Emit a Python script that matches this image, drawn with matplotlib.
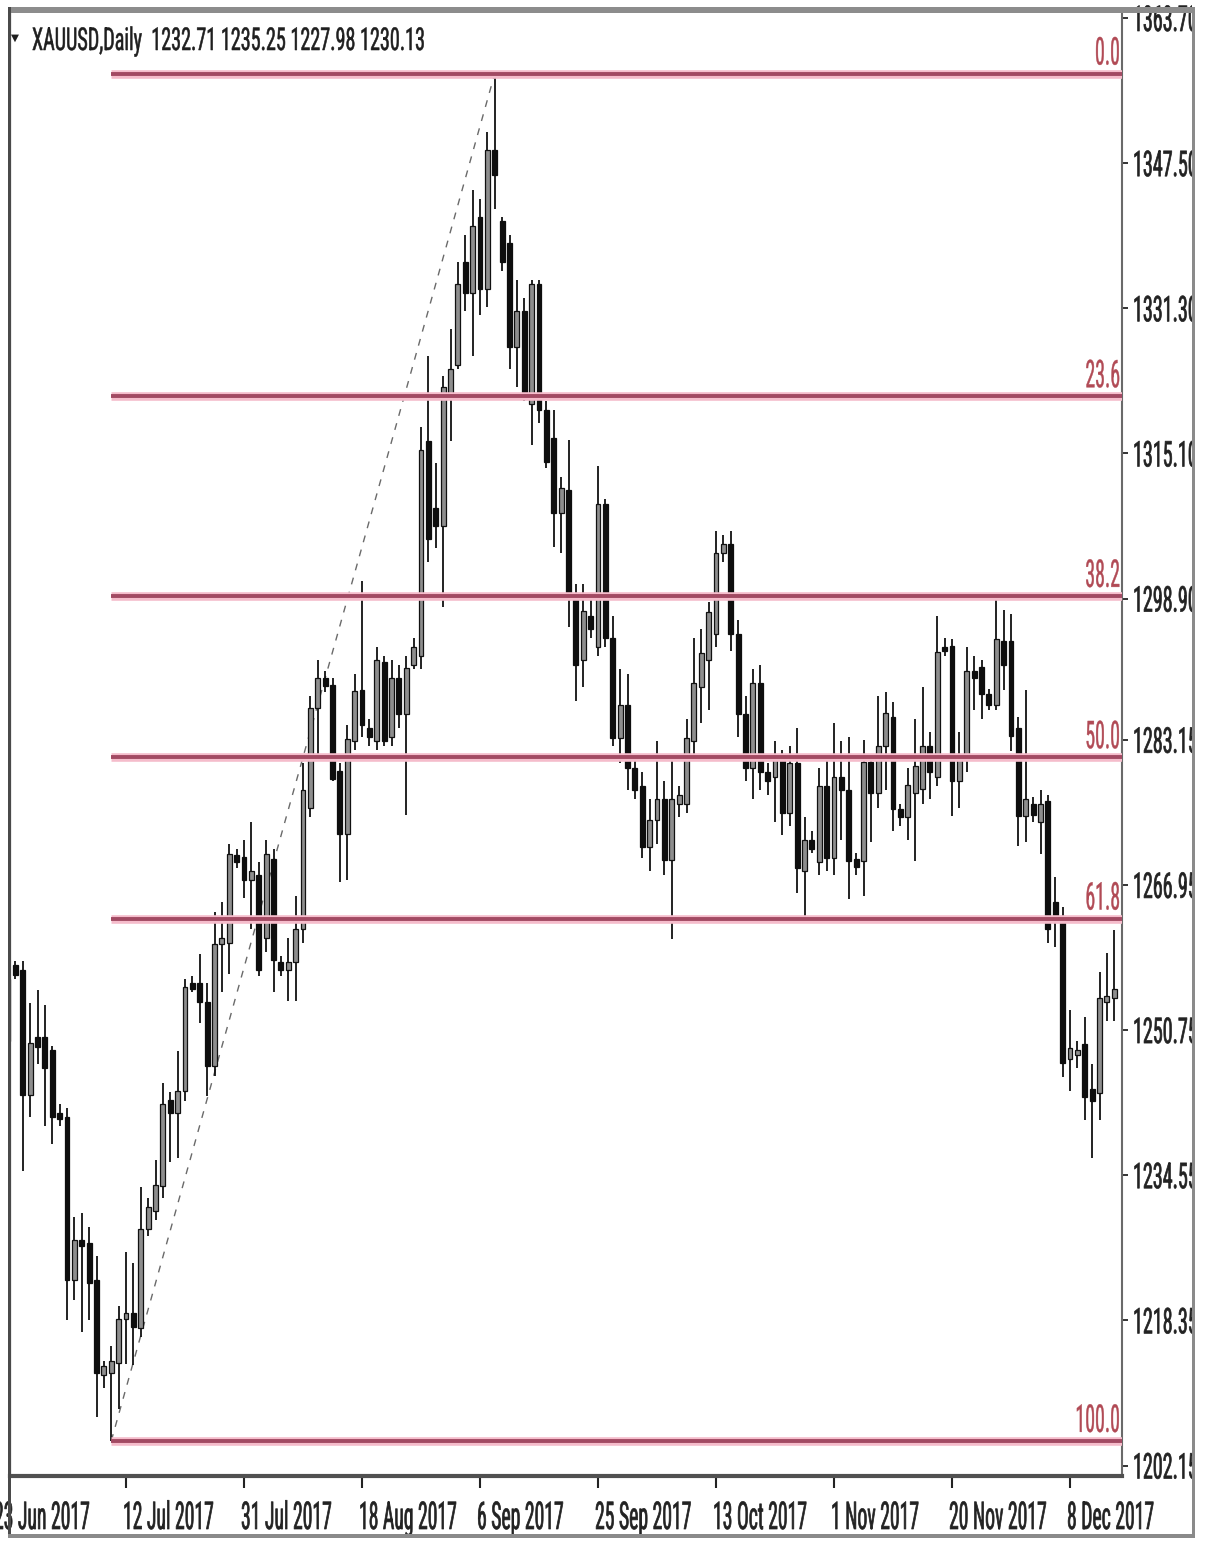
import numpy as np
import matplotlib
matplotlib.use("Agg")
import matplotlib.pyplot as plt
from matplotlib.patches import Rectangle
from matplotlib.patheffects import AbstractPathEffect
from matplotlib.transforms import (Affine2D, blended_transform_factory, offset_copy,
                                   Bbox, TransformedBbox)
from matplotlib.textpath import TextPath
from matplotlib.font_manager import FontProperties, fontManager

# ---------------- data ----------------
dates = ['2017-06-23', '2017-06-25', '2017-06-26', '2017-06-27', '2017-06-28', '2017-06-29', '2017-06-30',
         '2017-07-02', '2017-07-03', '2017-07-04', '2017-07-05', '2017-07-06', '2017-07-07',
         '2017-07-09', '2017-07-10', '2017-07-11', '2017-07-12', '2017-07-13', '2017-07-14',
         '2017-07-16', '2017-07-17', '2017-07-18', '2017-07-19', '2017-07-20', '2017-07-21',
         '2017-07-23', '2017-07-24', '2017-07-25', '2017-07-26', '2017-07-27', '2017-07-28',
         '2017-07-30', '2017-07-31', '2017-08-01', '2017-08-02', '2017-08-03', '2017-08-04',
         '2017-08-06', '2017-08-07', '2017-08-08', '2017-08-09', '2017-08-10', '2017-08-11',
         '2017-08-13', '2017-08-14', '2017-08-15', '2017-08-16', '2017-08-17', '2017-08-18',
         '2017-08-20', '2017-08-21', '2017-08-22', '2017-08-23', '2017-08-24', '2017-08-25',
         '2017-08-27', '2017-08-28', '2017-08-29', '2017-08-30', '2017-08-31', '2017-09-01',
         '2017-09-03', '2017-09-04', '2017-09-05', '2017-09-06', '2017-09-07', '2017-09-08',
         '2017-09-10', '2017-09-11', '2017-09-12', '2017-09-13', '2017-09-14', '2017-09-15',
         '2017-09-17', '2017-09-18', '2017-09-19', '2017-09-20', '2017-09-21', '2017-09-22',
         '2017-09-24', '2017-09-25', '2017-09-26', '2017-09-27', '2017-09-28', '2017-09-29',
         '2017-10-01', '2017-10-02', '2017-10-03', '2017-10-04', '2017-10-05', '2017-10-06',
         '2017-10-08', '2017-10-09', '2017-10-10', '2017-10-11', '2017-10-12', '2017-10-13',
         '2017-10-15', '2017-10-16', '2017-10-17', '2017-10-18', '2017-10-19', '2017-10-20',
         '2017-10-22', '2017-10-23', '2017-10-24', '2017-10-25', '2017-10-26', '2017-10-27',
         '2017-10-29', '2017-10-30', '2017-10-31', '2017-11-01', '2017-11-02', '2017-11-03',
         '2017-11-05', '2017-11-06', '2017-11-07', '2017-11-08', '2017-11-09', '2017-11-10',
         '2017-11-12', '2017-11-13', '2017-11-14', '2017-11-15', '2017-11-16', '2017-11-17',
         '2017-11-19', '2017-11-20', '2017-11-21', '2017-11-22', '2017-11-23', '2017-11-24',
         '2017-11-26', '2017-11-27', '2017-11-28', '2017-11-29', '2017-11-30', '2017-12-01',
         '2017-12-03', '2017-12-04', '2017-12-05', '2017-12-06', '2017-12-07', '2017-12-08',
         '2017-12-10', '2017-12-11', '2017-12-12', '2017-12-13', '2017-12-14', '2017-12-15']

opens = [1249.5, 1258.0, 1257.5, 1243.5, 1250.0, 1250.0, 1248.5,
         1241.5, 1241.0, 1222.9, 1227.3, 1227.0, 1222.9,
         1212.2, 1212.5, 1213.6, 1218.5, 1219.2, 1217.5,
         1228.5, 1230.5, 1233.3, 1242.9, 1241.5, 1244.0,
         1256.0, 1256.0, 1253.9, 1246.7, 1260.3, 1260.5,
         1270.3, 1270.1, 1267.5, 1268.0, 1261.0, 1269.8,
         1258.3, 1257.5, 1258.3, 1262.0, 1275.5, 1286.7,
         1290.0, 1289.3, 1279.7, 1272.6, 1283.0, 1288.7,
         1284.5, 1283.0, 1291.8, 1283.5, 1290.0, 1286.0,
         1291.5, 1292.5, 1316.5, 1309.0, 1307.0, 1321.5,
         1325.0, 1336.5, 1333.0, 1341.5, 1333.5, 1349.0,
         1341.0, 1338.6, 1327.0, 1331.0, 1320.6, 1334.0,
         1320.0, 1316.8, 1308.4, 1311.0, 1299.2, 1292.0,
         1297.0, 1293.5, 1309.5, 1294.5, 1283.4, 1287.0,
         1280.0, 1278.0, 1271.2, 1274.2, 1276.5, 1269.7,
         1276.0, 1276.0, 1283.0, 1289.0, 1292.0, 1295.0,
         1304.0, 1305.0, 1295.0, 1286.0, 1280.0, 1289.5,
         1279.5, 1279.0, 1281.0, 1275.0, 1280.6, 1268.5,
         1272.0, 1269.5, 1278.0, 1270.0, 1279.0, 1277.5,
         1269.8, 1269.6, 1280.7, 1277.2, 1282.4, 1285.7,
         1275.4, 1274.5, 1277.2, 1277.7, 1282.5, 1279.0,
         1293.5, 1293.6, 1278.6, 1281.0, 1290.8, 1291.3,
         1288.3, 1287.0, 1294.2, 1294.2, 1284.5, 1274.6,
         1276.0, 1274.0, 1276.3, 1265.0, 1263.5, 1247.5,
         1248.0, 1249.2, 1244.2, 1243.7, 1253.9, 1254.3]

highs = [1257.5, 1258.5, 1258.5, 1253.8, 1255.2, 1253.6, 1249.0,
         1242.5, 1242.0, 1229.9, 1230.3, 1228.8, 1225.5,
         1213.8, 1215.5, 1220.0, 1226.0, 1224.7, 1233.2,
         1232.0, 1236.2, 1244.8, 1243.8, 1248.4, 1256.5,
         1256.8, 1259.2, 1256.0, 1263.9, 1265.0, 1271.5,
         1271.0, 1272.0, 1274.0, 1269.5, 1272.0, 1271.0,
         1259.0, 1261.0, 1265.7, 1280.5, 1288.0, 1292.0,
         1290.8, 1290.0, 1280.5, 1284.8, 1290.5, 1300.9,
         1285.5, 1293.5, 1292.5, 1292.0, 1291.5, 1292.5,
         1294.5, 1318.0, 1326.0, 1314.0, 1323.8, 1329.0,
         1336.5, 1339.5, 1344.5, 1343.5, 1351.0, 1357.5,
         1341.5, 1339.5, 1334.5, 1332.5, 1334.5, 1334.5,
         1321.0, 1319.9, 1312.5, 1316.6, 1300.5, 1300.5,
         1299.0, 1313.7, 1310.0, 1297.0, 1291.0, 1290.5,
         1281.0, 1279.5, 1276.5, 1283.0, 1278.5, 1281.0,
         1278.0, 1285.5, 1294.5, 1295.5, 1298.5, 1306.5,
         1306.0, 1306.5, 1296.5, 1288.0, 1291.0, 1291.5,
         1280.5, 1283.0, 1282.0, 1282.5, 1284.5, 1274.5,
         1273.0, 1280.0, 1281.5, 1285.0, 1283.0, 1283.5,
         1270.5, 1283.1, 1281.0, 1288.0, 1288.5, 1287.4,
         1276.0, 1280.0, 1285.5, 1289.0, 1284.0, 1297.0,
         1294.5, 1294.4, 1284.0, 1293.5, 1292.5, 1292.0,
         1288.8, 1298.9, 1297.6, 1297.2, 1285.7, 1288.7,
         1276.8, 1277.5, 1277.0, 1267.8, 1264.5, 1253.0,
         1249.5, 1252.2, 1247.0, 1257.2, 1259.4, 1261.9]

lows = [1247.5, 1256.4, 1235.0, 1241.0, 1247.0, 1240.0, 1238.0,
        1240.0, 1218.4, 1220.6, 1217.0, 1218.4, 1207.6,
        1210.8, 1204.9, 1208.5, 1213.5, 1213.4, 1216.5,
        1227.8, 1229.5, 1232.0, 1236.0, 1236.5, 1242.8,
        1255.0, 1251.5, 1243.4, 1245.6, 1255.0, 1257.0,
        1268.8, 1265.5, 1262.0, 1256.8, 1259.5, 1255.0,
        1256.8, 1254.0, 1254.0, 1260.5, 1274.5, 1281.5,
        1288.5, 1278.5, 1267.3, 1267.5, 1282.0, 1283.5,
        1282.5, 1282.0, 1282.5, 1282.5, 1284.5, 1274.7,
        1291.0, 1291.0, 1303.0, 1304.5, 1298.0, 1316.5,
        1324.5, 1331.0, 1326.0, 1330.5, 1331.5, 1342.4,
        1335.5, 1324.5, 1322.5, 1321.0, 1316.0, 1318.5,
        1313.5, 1304.7, 1304.0, 1295.7, 1287.5, 1289.0,
        1294.5, 1292.5, 1293.5, 1282.5, 1280.5, 1277.5,
        1276.5, 1270.0, 1268.5, 1271.5, 1268.0, 1260.9,
        1274.5, 1275.0, 1281.5, 1285.0, 1286.5, 1293.5,
        1303.0, 1293.0, 1283.5, 1278.5, 1276.5, 1277.5,
        1277.0, 1274.0, 1272.5, 1273.5, 1266.0, 1263.3,
        1270.5, 1268.0, 1268.5, 1268.0, 1272.0, 1265.4,
        1268.0, 1265.7, 1271.7, 1275.5, 1277.5, 1273.0,
        1273.5, 1272.0, 1269.6, 1276.0, 1276.5, 1278.0,
        1292.5, 1274.6, 1275.5, 1279.5, 1286.5, 1285.5,
        1286.5, 1286.5, 1288.7, 1281.9, 1271.3, 1271.7,
        1274.0, 1270.4, 1260.5, 1260.0, 1245.5, 1244.0,
        1246.5, 1240.7, 1236.5, 1240.7, 1251.8, 1251.8]

closes = [1256.5, 1256.9, 1243.5, 1249.3, 1248.9, 1246.5, 1241.0,
          1240.8, 1222.9, 1227.3, 1226.6, 1222.5, 1212.5,
          1213.3, 1213.8, 1218.5, 1219.2, 1217.6, 1228.5,
          1231.0, 1233.5, 1242.5, 1241.5, 1244.0, 1255.5,
          1255.3, 1253.9, 1246.7, 1260.3, 1261.0, 1270.4,
          1269.5, 1267.5, 1268.5, 1257.5, 1270.4, 1258.6,
          1257.5, 1258.3, 1262.0, 1277.5, 1286.7, 1290.0,
          1289.2, 1278.8, 1272.6, 1283.2, 1288.6, 1284.8,
          1283.5, 1292.0, 1283.0, 1290.0, 1286.0, 1291.2,
          1293.5, 1315.5, 1305.5, 1307.0, 1322.5, 1324.5,
          1334.0, 1333.0, 1340.5, 1333.5, 1349.0, 1346.2,
          1336.5, 1327.0, 1331.0, 1322.0, 1334.0, 1320.0,
          1314.2, 1308.4, 1311.2, 1299.2, 1291.5, 1297.5,
          1295.5, 1309.5, 1294.5, 1283.4, 1287.0, 1280.0,
          1277.5, 1271.2, 1274.2, 1276.5, 1269.7, 1276.5,
          1277.0, 1283.4, 1289.5, 1292.8, 1297.4, 1304.0,
          1305.0, 1295.0, 1286.0, 1280.0, 1289.5, 1279.5,
          1278.5, 1281.0, 1275.0, 1280.6, 1268.8, 1272.0,
          1271.0, 1278.0, 1270.0, 1279.0, 1277.5, 1269.6,
          1269.0, 1280.7, 1277.2, 1282.4, 1286.1, 1275.4,
          1274.5, 1278.1, 1280.2, 1282.4, 1279.5, 1292.9,
          1293.0, 1278.6, 1281.5, 1290.8, 1290.0, 1288.3,
          1287.0, 1294.4, 1291.5, 1283.6, 1274.6, 1276.5,
          1274.8, 1276.0, 1262.0, 1263.6, 1247.1, 1248.8,
          1248.5, 1243.3, 1242.8, 1254.3, 1254.6, 1255.3]

price_tick_labels = ['1363.70', '1347.50', '1331.30', '1315.10', '1298.90', '1283.15',
                     '1266.95', '1250.75', '1234.55', '1218.35', '1202.15']
date_tick_dates = ['2017-06-23', '2017-07-12', '2017-07-31', '2017-08-18', '2017-09-06',
                   '2017-09-25', '2017-10-13', '2017-11-01', '2017-11-20', '2017-12-08']
date_tick_labels = ['23 Jun 2017', '12 Jul 2017', '31 Jul 2017', '18 Aug 2017', '6 Sep 2017',
                    '25 Sep 2017', '13 Oct 2017', '1 Nov 2017', '20 Nov 2017', '8 Dec 2017']
fib_ratios = [0.0, 23.6, 38.2, 50.0, 61.8, 100.0]
fib_labels = ['0.0', '23.6', '38.2', '50.0', '61.8', '100.0']
title_text = 'XAUUSD,Daily  1232.71 1235.25 1227.98 1230.13'

# ---------------- figure setup ----------------
W, H, DPI = 1208, 1542, 100
fig = plt.figure(figsize=(W / DPI, H / DPI), dpi=DPI)
fig.patch.set_facecolor('white')

def fx(px):
    return px / W

def fy(py):
    return 1 - py / H

ax = fig.add_axes([fx(10), fy(1476), (1122 - 10) / W, (1476 - 12) / H])
ax.set_facecolor('white')

names = {f.name for f in fontManager.ttflist}
FONT = 'DejaVu Sans'
for cand in ['Liberation Sans Narrow', 'Roboto Condensed', 'Liberation Sans', 'DejaVu Sans']:
    if cand in names:
        FONT = cand
        break
fp = FontProperties(family=FONT)


class StretchY(AbstractPathEffect):
    """Stretch glyphs vertically about the baseline (text stays a Text artist)."""
    def __init__(self, sy, stroke=0.0):
        super().__init__((0, 0))
        self.sy = sy
        self.stroke = stroke

    def draw_path(self, renderer, gc, tpath, affine, rgbFace=None):
        tr = Affine2D().scale(1.0, self.sy) + affine
        if self.stroke > 0 and rgbFace is not None:
            gc0 = renderer.new_gc()
            gc0.copy_properties(gc)
            gc0.set_linewidth(self.stroke)
            gc0.set_foreground(rgbFace)
            renderer.draw_path(gc0, tpath, tr, rgbFace)
            gc0.restore()
        else:
            renderer.draw_path(gc, tpath, tr, rgbFace)


def fit_size(s, w_px):
    w1 = TextPath((0, 0), s, size=1, prop=fp).get_extents().width
    return w_px / (w1 * DPI / 72.0)


def stretch_for(size, h_px):
    h1 = TextPath((0, 0), '0', size=1, prop=fp).get_extents().height
    return h_px / (h1 * size * DPI / 72.0)


# ---------------- candles ----------------
o = np.array(opens); hi = np.array(highs); lo = np.array(lows); c = np.array(closes)
x = np.arange(len(dates))
up = c >= o
ax.vlines(x, lo, hi, color='#111111', lw=1.3, zorder=2)
bottom = np.minimum(o, c)
height = np.maximum(np.abs(c - o), 0.35)
ax.bar(x[up], height[up], width=0.66, bottom=bottom[up], color='#8e8e8e',
       edgecolor='#111111', linewidth=0.9, zorder=3)
ax.bar(x[~up], height[~up], width=0.66, bottom=bottom[~up], color='#0e0e0e',
       edgecolor='#0e0e0e', linewidth=0.9, zorder=3)

# ---------------- fibonacci ----------------
i_low = int(np.argmin(lo))
i_high = int(np.argmax(hi))
p_low, p_high = lo[i_low], hi[i_high]
XMIN, XMAX = 0.27, 151.05
ax.plot([i_low, i_high], [p_low, p_high], color='#6a6a6a', lw=1.0,
        dashes=(5, 5.5), zorder=1.5)
levels = [p_high - r / 100.0 * (p_high - p_low) for r in fib_ratios]
for lv in levels:
    ax.plot([i_low, XMAX + 5], [lv, lv], color='#f5bccb', lw=6.2, zorder=4,
            solid_capstyle='butt')
    ax.plot([i_low, XMAX + 5], [lv, lv], color='#a24a63', lw=2.8, zorder=4.1,
            solid_capstyle='butt')

ax.set_xlim(XMIN, XMAX)
ax.set_ylim(1200.98, 1364.37)

# ---------------- axes frame / ticks ----------------
price_ticks = [float(s) for s in price_tick_labels]
date_pos = [dates.index(d) for d in date_tick_dates]
ax.yaxis.set_ticks_position('right')
ax.set_yticks(price_ticks)
ax.set_xticks([p for p in date_pos if XMIN <= p <= XMAX])
ax.tick_params(axis='y', direction='out', length=4, width=1.2, colors='#111111',
               labelright=False, labelleft=False)
ax.tick_params(axis='x', direction='out', length=8.5, width=1.5, colors='#222222',
               labelbottom=False)
ax.spines['top'].set_visible(False)
ax.spines['bottom'].set_linewidth(3.0)
ax.spines['bottom'].set_color('#505050')
ax.spines['left'].set_linewidth(1.6)
ax.spines['left'].set_color('#404040')
ax.spines['right'].set_linewidth(1.5)
ax.spines['right'].set_color('#6a6a6a')

# outer frame pieces (figure pixels)
def frame_rect(x0, y0, x1, y1, color):
    fig.add_artist(Rectangle((fx(x0), fy(y1)), (x1 - x0) / W, (y1 - y0) / H,
                             transform=fig.transFigure, facecolor=color,
                             edgecolor='none', zorder=10))

frame_rect(8, 7, 1195, 13, '#8c8c8c')
frame_rect(8, 7, 10.5, 1538, '#4a4a4a')
frame_rect(1192, 7, 1195, 1538, '#8a8a8a')
frame_rect(8, 1534, 1195, 1538, '#8a8a8a')

# ---------------- text ----------------
TXT = '#222222'
# price labels
size_y = fit_size('1347.50', 62)
sy_y = stretch_for(size_y, 26)
clip = TransformedBbox(Bbox([[0, 0], [fx(1192), 1]]), fig.transFigure)
ytrans = offset_copy(blended_transform_factory(fig.transFigure, ax.transData),
                     fig=fig, x=0, y=-13, units='dots')
for s, v in zip(price_tick_labels, price_ticks):
    t = fig.text(fx(1133), v, s, transform=ytrans, fontsize=size_y, family=FONT,
                 ha='left', va='baseline', color=TXT,
                 path_effects=[StretchY(sy_y, stroke=0.5)])
    t.set_clip_box(clip)
    t.set_clip_on(True)

# date labels
size_d = fit_size('20 Nov 2017', 96)
sy_d = stretch_for(size_d, 28)
for s, p in zip(date_tick_labels, date_pos):
    dx = -14 if p < XMIN else -3
    tr = offset_copy(blended_transform_factory(ax.transData, fig.transFigure),
                     fig=fig, x=dx, y=0, units='dots')
    fig.text(p, fy(1529), s, transform=tr, fontsize=size_d, family=FONT,
             ha='left', va='baseline', color=TXT,
             path_effects=[StretchY(sy_d, stroke=0.5)])

# fib labels
size_f = fit_size('38.2', 33)
sy_f = stretch_for(size_f, 28)
ftrans = offset_copy(blended_transform_factory(ax.transAxes, ax.transData),
                     fig=fig, x=-2, y=9, units='dots')
for s, lv in zip(fib_labels, levels):
    ax.text(1.0, lv, s, transform=ftrans, fontsize=size_f, family=FONT,
            ha='right', va='baseline', color='#b14a55', zorder=6,
            path_effects=[StretchY(sy_f, stroke=0.3)])

# title
size_t = fit_size(title_text, 391)
sy_t = stretch_for(size_t, 23)
fig.text(fx(32), fy(50), title_text, fontsize=size_t, family=FONT, ha='left',
         va='baseline', color='#1e1e1e', path_effects=[StretchY(sy_t, stroke=0.4)])
fig.text(fx(15), fy(38), '\u25BC', fontsize=7.5, family='DejaVu Sans', ha='center',
         va='center', color='#1e1e1e')

fig.savefig('out.png', dpi=DPI, facecolor='white')
